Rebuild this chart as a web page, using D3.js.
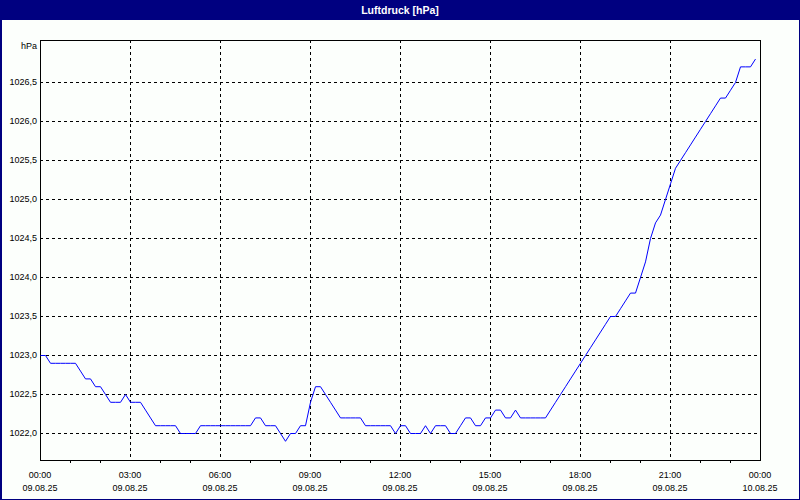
<!DOCTYPE html>
<html><head><meta charset="utf-8">
<script src="https://cdn.jsdelivr.net/npm/d3@7"></script>
<style>html,body{margin:0;padding:0;background:#fcfffc;}svg{display:block;}</style>
</head><body>
<svg id="c" width="800" height="500"></svg>
<script>
// ---- data ----
const title = "Luftdruck [hPa]";
const unitLabel = "hPa";
const startTime = "2025-08-09T00:00:00";
const stepMinutes = 10;
// pressure readings every 10 minutes from 09.08.25 00:00
const pressure = [
 1023.0,1023.0,1022.9,1022.9,1022.9,1022.9,1022.9,1022.9,1022.8,1022.7,
 1022.7,1022.6,1022.6,1022.5,1022.4,1022.4,1022.4,1022.5,1022.4,1022.4,
 1022.4,1022.3,1022.2,1022.1,1022.1,1022.1,1022.1,1022.1,1022.0,1022.0,
 1022.0,1022.0,1022.1,1022.1,1022.1,1022.1,1022.1,1022.1,1022.1,1022.1,
 1022.1,1022.1,1022.1,1022.2,1022.2,1022.1,1022.1,1022.1,1022.0,1021.9,
 1022.0,1022.0,1022.1,1022.1,1022.4,1022.6,1022.6,1022.5,1022.4,1022.3,
 1022.2,1022.2,1022.2,1022.2,1022.2,1022.1,1022.1,1022.1,1022.1,1022.1,
 1022.1,1022.0,1022.1,1022.1,1022.0,1022.0,1022.0,1022.1,1022.0,1022.1,
 1022.1,1022.1,1022.0,1022.0,1022.1,1022.2,1022.2,1022.1,1022.1,1022.2,
 1022.2,1022.3,1022.3,1022.2,1022.2,1022.3,1022.2,1022.2,1022.2,1022.2,
 1022.2,1022.2,1022.3,1022.4,1022.5,1022.6,1022.7,1022.8,1022.9,1023.0,
 1023.1,1023.2,1023.3,1023.4,1023.5,1023.5,1023.6,1023.7,1023.8,1023.8,
 1024.0,1024.2,1024.5,1024.7,1024.8,1025.0,1025.2,1025.4,1025.5,1025.6,
 1025.7,1025.8,1025.9,1026.0,1026.1,1026.2,1026.3,1026.3,1026.4,1026.5,
 1026.7,1026.7,1026.7,1026.8
];
const yTicks = [1022.0,1022.5,1023.0,1023.5,1024.0,1024.5,1025.0,1025.5,1026.0,1026.5];
const xTickTimes = ["2025-08-09T00:00:00","2025-08-09T03:00:00","2025-08-09T06:00:00","2025-08-09T09:00:00",
  "2025-08-09T12:00:00","2025-08-09T15:00:00","2025-08-09T18:00:00","2025-08-09T21:00:00","2025-08-10T00:00:00"];
const xTimeLabels = ["00:00","03:00","06:00","09:00","12:00","15:00","18:00","21:00","00:00"];
const xDateLabels = ["09.08.25","09.08.25","09.08.25","09.08.25","09.08.25","09.08.25","09.08.25","09.08.25","10.08.25"];
const xDomain = ["2025-08-09T00:00:00","2025-08-10T00:00:00"];
const yDomain = [1021.654, 1027.038];

// ---- layout ----
const W = 800, H = 500;
const L = 40, R = 760, T = 40, B = 460;
const svg = d3.select("#c");
const font = "'Liberation Sans', Arial, sans-serif";

svg.append("rect").attr("x",0).attr("y",0).attr("width",W).attr("height",H).attr("fill","#fcfffc");
// title bar
svg.append("rect").attr("x",0).attr("y",0).attr("width",W).attr("height",20).attr("fill","#000080");
svg.append("text").attr("x",400).attr("y",14).attr("text-anchor","middle")
  .attr("font-family",font).attr("font-size","10.5px").attr("font-weight","bold").attr("fill","#fff").text(title);
// outer frame
svg.append("rect").attr("x",0.5).attr("y",0.5).attr("width",W-1).attr("height",H-1)
  .attr("fill","none").attr("stroke","#000080").attr("stroke-width",1);
svg.append("line").attr("x1",1.5).attr("x2",1.5).attr("y1",20).attr("y2",H).attr("stroke","#000080");

const x = d3.scaleTime().domain(xDomain.map(d=>new Date(d))).range([L,R]);
const y = d3.scaleLinear().domain(yDomain).range([B,T]);

const g = svg.append("g").attr("shape-rendering","crispEdges");
// horizontal grid
g.selectAll("line.hg").data(yTicks).enter().append("line")
  .attr("x1",L).attr("x2",R).attr("y1",d=>Math.round(y(d))+0.5).attr("y2",d=>Math.round(y(d))+0.5)
  .attr("stroke","#000").attr("stroke-dasharray","3,3");
// vertical grid
const vt = xTickTimes.map(d=>new Date(d)).slice(1,-1);
g.selectAll("line.vg").data(vt).enter().append("line")
  .attr("y1",T).attr("y2",B).attr("x1",d=>Math.round(x(d))+0.5).attr("x2",d=>Math.round(x(d))+0.5)
  .attr("stroke","#000").attr("stroke-dasharray","3,3");
// minor hourly ticks
const hours = d3.timeHour.range(new Date(xDomain[0]), new Date(xDomain[1])).filter(d=>d.getHours()%3!==0);
g.selectAll("line.mt").data(hours).enter().append("line")
  .attr("y1",B).attr("y2",B+3).attr("x1",d=>Math.round(x(d))+0.5).attr("x2",d=>Math.round(x(d))+0.5)
  .attr("stroke","#000");
// frame
g.append("rect").attr("x",L+0.5).attr("y",T+0.5).attr("width",R-L).attr("height",B-T)
  .attr("fill","none").attr("stroke","#000");

// y labels
svg.selectAll("text.yl").data(yTicks).enter().append("text")
  .attr("x",37).attr("y",d=>y(d)+3.3).attr("text-anchor","end")
  .attr("font-family",font).attr("font-size","9px").attr("fill","#000")
  .text(d=>d.toFixed(1).replace(".",","));
svg.append("text").attr("x",37).attr("y",48.8).attr("text-anchor","end")
  .attr("font-family",font).attr("font-size","9px").attr("fill","#000").text(unitLabel);

// x labels
xTickTimes.forEach((t,i)=>{
  const xx = x(new Date(t));
  svg.append("text").attr("x",xx).attr("y",477.5).attr("text-anchor","middle")
    .attr("font-family",font).attr("font-size","9px").attr("fill","#000").text(xTimeLabels[i]);
  svg.append("text").attr("x",xx).attr("y",490.5).attr("text-anchor","middle")
    .attr("font-family",font).attr("font-size","9px").attr("fill","#000").text(xDateLabels[i]);
});

// line
const t0 = new Date(startTime);
const pts = pressure.map((v,i)=>({t:d3.timeMinute.offset(t0,i*stepMinutes), v}));
const line = d3.line().x(d=>x(d.t)+0.5).y(d=>y(d.v)+0.5);
svg.append("path").datum(pts).attr("d",line).attr("fill","none")
  .attr("stroke","#0000ff").attr("stroke-width",1);
</script>
</body></html>
